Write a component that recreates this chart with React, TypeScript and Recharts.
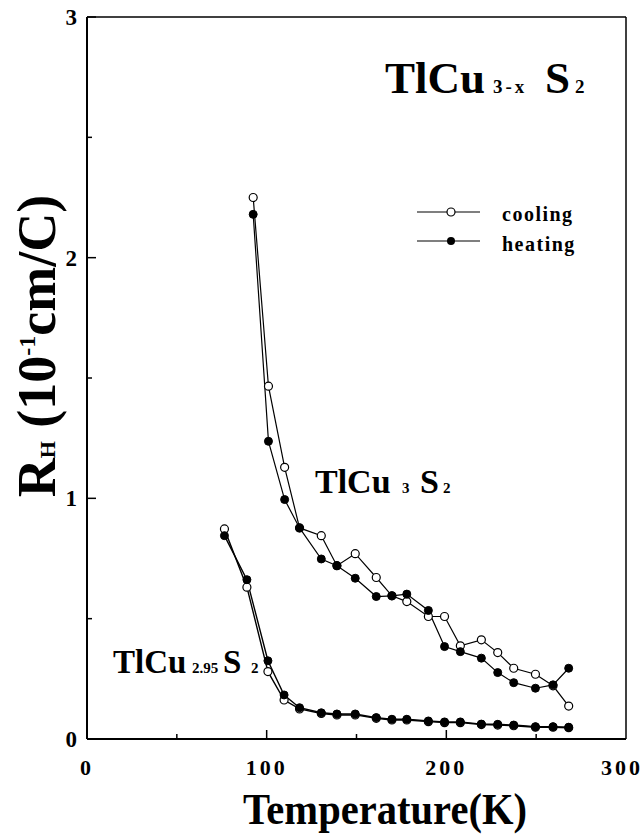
import { LineChart, Line, XAxis, YAxis, ReferenceLine } from "recharts";

// TlCu3S2 Hall coefficient, cooling and heating runs
const tempsTl3 = [92.5, 101, 110, 118.3, 130.4, 139.1, 149.3, 161, 169.7, 178, 190, 199, 207.8, 219.5, 228.6, 237.5, 249.6, 259.4, 268.1];
const rhTl3Cooling = [2.25, 1.466, 1.129, 0.877, 0.845, 0.72, 0.77, 0.671, 0.595, 0.571, 0.509, 0.509, 0.387, 0.412, 0.359, 0.294, 0.269, 0.221, 0.137];
const rhTl3Heating = [2.18, 1.237, 0.995, 0.877, 0.748, 0.72, 0.668, 0.592, 0.595, 0.602, 0.534, 0.384, 0.363, 0.336, 0.276, 0.234, 0.211, 0.225, 0.294];

// TlCu2.95S2
const tempsTl295 = [76.5, 89, 100.7, 109.7, 118.3, 130.4, 139.1, 149.3, 161, 169.7, 178, 190, 199, 207.8, 219.5, 228.6, 237.5, 249.6, 259.4, 268.1];
const rhTl295Cooling = [0.873, 0.631, 0.28, 0.162, 0.125, 0.106, 0.1, 0.1, 0.086, 0.079, 0.079, 0.072, 0.068, 0.068, 0.06, 0.058, 0.055, 0.049, 0.049, 0.047];
const rhTl295Heating = [0.845, 0.662, 0.325, 0.183, 0.13, 0.109, 0.104, 0.104, 0.089, 0.082, 0.082, 0.075, 0.071, 0.071, 0.062, 0.061, 0.058, 0.051, 0.051, 0.049];

const xTicks = [0, 50, 100, 150, 200, 250, 300];
const yTicks = [0, 0.5, 1, 1.5, 2, 2.5, 3];

const FONT = "'Liberation Serif', 'Times New Roman', serif";

const toRows = (temps: number[], vals: number[]) => temps.map((t, i) => ({ t, rh: vals[i] }));

const openDot = { r: 4, fill: "#fff", stroke: "#000", strokeWidth: 1.2 };
const fullDot = { r: 4, fill: "#000", stroke: "#000", strokeWidth: 1 };

const XTick = (props: any) => {
  const { x, y, payload } = props;
  const v = payload.value;
  const major = v % 100 === 0;
  const edge = v === 0 || v === 300;
  return (
    <g>
      {!edge && <line x1={x} x2={x} y1={y} y2={y - (major ? 9 : 5)} stroke="#000" strokeWidth={1.5} />}
      {major && (
        <text x={v === 300 ? x - 4 : x} y={y + 36} textAnchor="middle" fontFamily={FONT} fontWeight="bold" fontSize={22} letterSpacing={3} fill="#000">
          {v}
        </text>
      )}
    </g>
  );
};

const YTick = (props: any) => {
  const { x, y, payload } = props;
  const v = payload.value;
  const major = Number.isInteger(v);
  return (
    <g>
      <line x1={x} x2={x + (major ? 9 : 5)} y1={y} y2={y} stroke="#000" strokeWidth={1.5} />
      {major && (
        <text x={x - 10} y={y + 8} textAnchor="end" fontFamily={FONT} fontWeight="bold" fontSize={23} fill="#000">
          {v}
        </text>
      )}
    </g>
  );
};

export default function App() {
  return (
    <div style={{ position: "absolute", left: 0, top: 0, width: 643, height: 836, background: "#fff" }}>
      <LineChart width={643} height={836} margin={{ top: 17, right: 17, bottom: 0, left: 0 }}>
        <XAxis
          type="number"
          dataKey="t"
          domain={[0, 300]}
          ticks={xTicks}
          interval={0}
          height={97}
          tickSize={0}
          tickMargin={0}
          tickLine={false}
          tick={<XTick />}
          axisLine={{ stroke: "#000", strokeWidth: 2 }}
        />
        <YAxis
          type="number"
          dataKey="rh"
          domain={[0, 3]}
          ticks={yTicks}
          interval={0}
          width={87}
          tickSize={0}
          tickMargin={0}
          tickLine={false}
          tick={<YTick />}
          axisLine={{ stroke: "#000", strokeWidth: 2 }}
        />
        <ReferenceLine y={3} stroke="#000" strokeWidth={1.5} />
        <ReferenceLine x={300} stroke="#000" strokeWidth={1.5} />
        <Line data={toRows(tempsTl3, rhTl3Cooling)} dataKey="rh" stroke="#000" strokeWidth={1.2} dot={openDot} isAnimationActive={false} />
        <Line data={toRows(tempsTl3, rhTl3Heating)} dataKey="rh" stroke="#000" strokeWidth={1.2} dot={fullDot} isAnimationActive={false} />
        <Line data={toRows(tempsTl295, rhTl295Cooling)} dataKey="rh" stroke="#000" strokeWidth={1.4} dot={openDot} isAnimationActive={false} />
        <Line data={toRows(tempsTl295, rhTl295Heating)} dataKey="rh" stroke="#000" strokeWidth={1.4} dot={fullDot} isAnimationActive={false} />
      </LineChart>

      <svg width={643} height={836} style={{ position: "absolute", left: 0, top: 0, pointerEvents: "none" }}>
        <g fontFamily={FONT} fontWeight="bold" fill="#000">
          {/* compound name, top right */}
          <text x={385} y={93} fontSize={45}>
            TlCu
            <tspan x={493} fontSize={19} letterSpacing={3}>3-x</tspan>
            <tspan x={545} fontSize={45}>S</tspan>
            <tspan x={575} fontSize={19}>2</tspan>
          </text>

          {/* curve labels */}
          <text x={315} y={493} fontSize={34}>
            TlCu
            <tspan x={402} fontSize={15}>3</tspan>
            <tspan x={420} fontSize={34}>S</tspan>
            <tspan x={443} fontSize={15}>2</tspan>
          </text>
          <text x={113} y={673} fontSize={33}>
            TlCu
            <tspan x={192} fontSize={15}>2.95</tspan>
            <tspan x={223} fontSize={33}>S</tspan>
            <tspan x={251} fontSize={15}>2</tspan>
          </text>

          {/* legend */}
          <line x1={417} x2={480} y1={212} y2={212} stroke="#000" strokeWidth={1.2} />
          <circle cx={451} cy={212} r={4} fill="#fff" stroke="#000" strokeWidth={1.2} />
          <text x={502} y={221} fontSize={20} letterSpacing={1.5}>cooling</text>
          <line x1={417} x2={480} y1={241} y2={241} stroke="#000" strokeWidth={1.2} />
          <circle cx={451} cy={241} r={4} fill="#000" />
          <text x={502} y={251} fontSize={20} letterSpacing={1.5}>heating</text>

          {/* axis titles */}
          <text x={385} y={824} fontSize={44} textAnchor="middle" textLength={284} lengthAdjust="spacingAndGlyphs">
            Temperature(K)
          </text>
          <text x={55} y={346} fontSize={54} textAnchor="middle" transform="rotate(-90, 55, 346)">
            R<tspan fontSize={22}>H</tspan> (10<tspan fontSize={24} dy={-20}>-1</tspan>
            <tspan dy={20}>cm/C)</tspan>
          </text>
        </g>
      </svg>
    </div>
  );
}
